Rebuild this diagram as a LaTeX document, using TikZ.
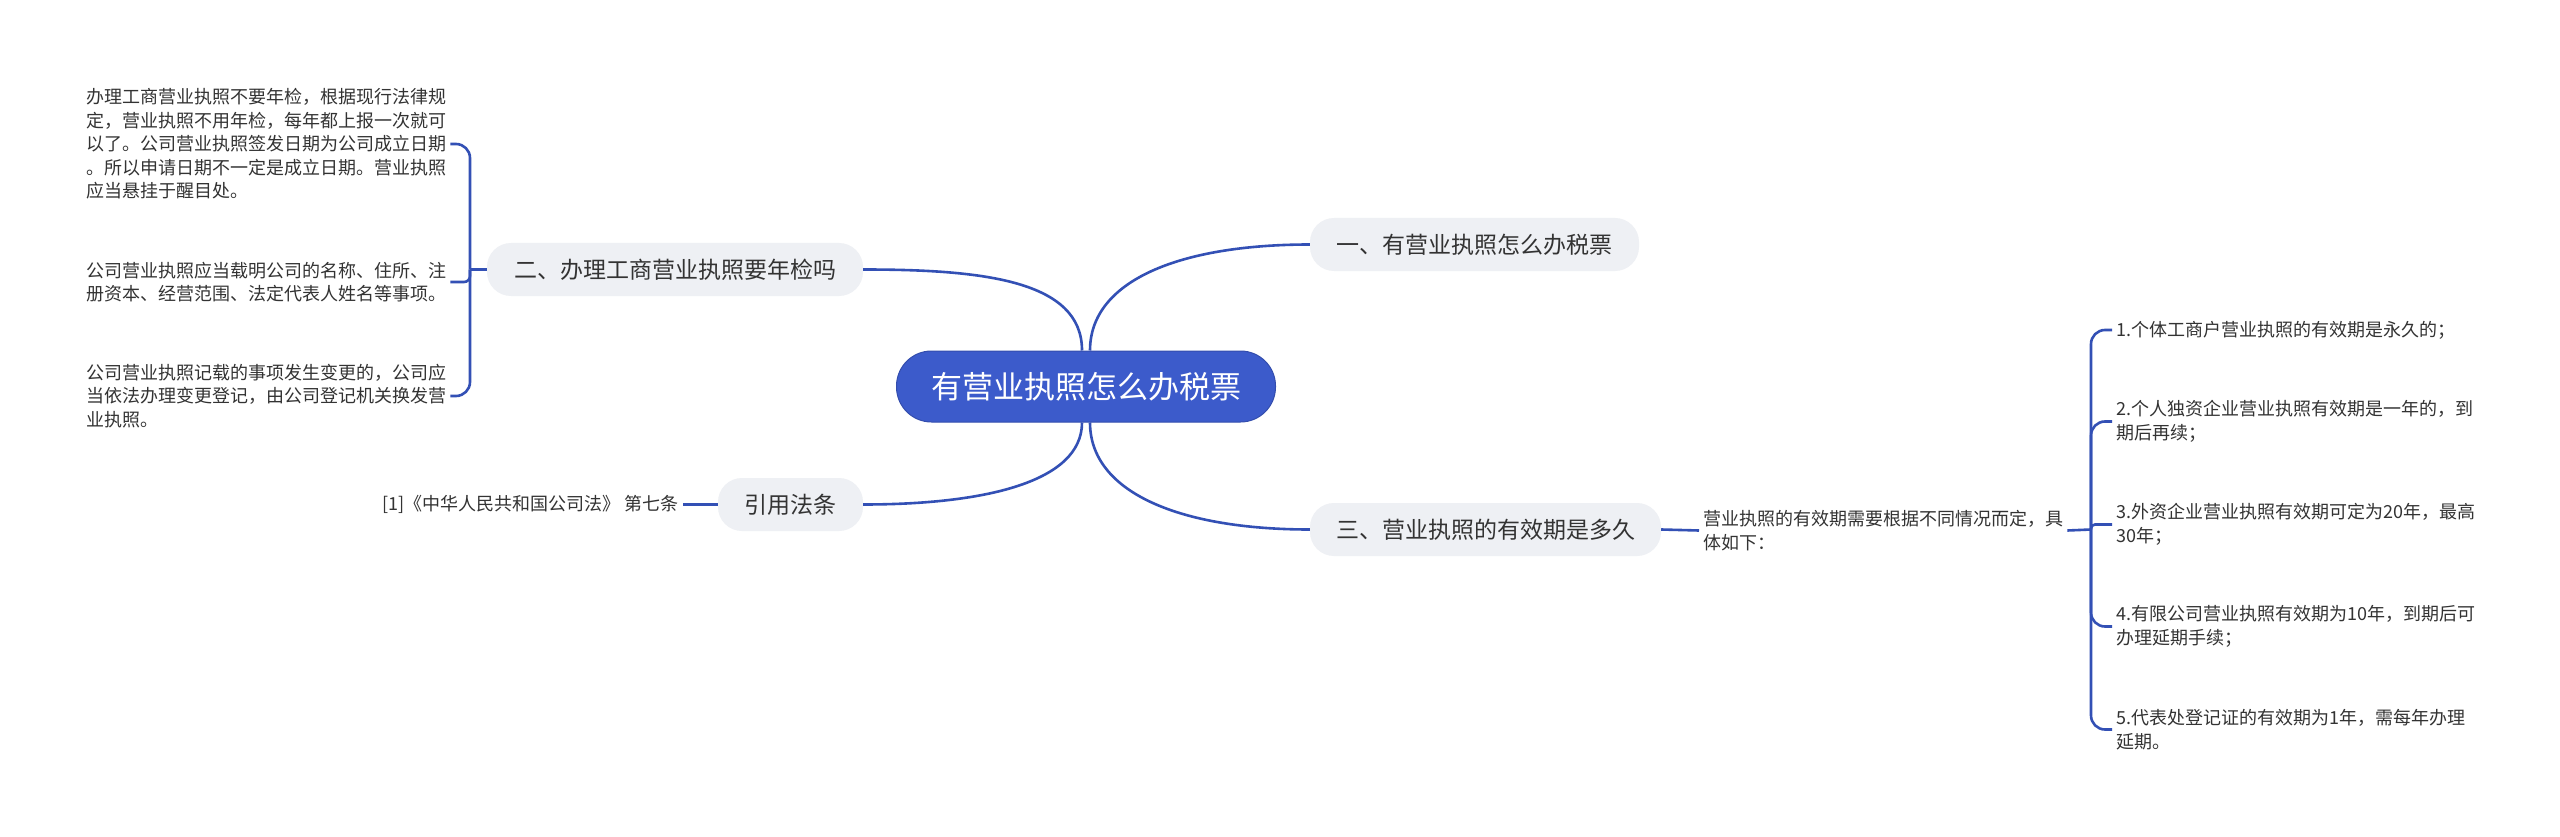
\documentclass[tikz,border=0pt]{standalone}
\usepackage{fontspec}
\setmainfont{Noto Sans CJK SC}
\definecolor{linec}{HTML}{3350B5}
\definecolor{mainc}{HTML}{3C5BCB}
\definecolor{subc}{HTML}{EEF0F4}
\definecolor{txt}{HTML}{333333}
\begin{document}
\begin{tikzpicture}[x=1pt,y=-1pt,
  conn/.style={draw=linec, line width=2.6pt},
  root/.style={fill=mainc, draw=mainc!85!black, line width=1pt, rounded corners=35pt, minimum width=379pt, minimum height=71pt, text=white, font=\fontsize{31}{31}\selectfont, inner sep=0pt},
  sub/.style={fill=subc, rounded corners=24pt, minimum height=53pt, text=txt, font=\fontsize{23}{23}\selectfont, inner sep=0pt},
  leaf/.style={text=txt, font=\fontsize{18}{23.5}\selectfont, align=left, inner sep=4pt}]
\useasboundingbox[fill=white] (0,0) rectangle (2560,837);

\node[root] (c) at (1086,386.5) {有营业执照怎么办税票};
\node[sub, minimum width=329pt] (b1) at (1474.5,244.5) {一、有营业执照怎么办税票};
\node[sub, minimum width=376pt] (b2) at (675,269.5) {二、办理工商营业执照要年检吗};
\node[sub, minimum width=351pt] (b3) at (1485.5,529.5) {三、营业执照的有效期是多久};
\node[sub, minimum width=145pt] (b4) at (790.5,504.5) {引用法条};

\draw[conn] ([xshift=4pt]c.north) .. controls +(0,-70) and +(-130,0) .. (b1.west);
\draw[conn] ([xshift=-4pt]c.north) .. controls +(0,-70) and +(120,0) .. (b2.east);
\draw[conn] ([xshift=4pt]c.south) .. controls +(0,70) and +(-130,0) .. (b3.west);
\draw[conn] ([xshift=-4pt]c.south) .. controls +(0,60) and +(120,0) .. (b4.east);

% left leaves
\node[leaf, anchor=west] (l1) at (82,144) {办理工商营业执照不要年检，根据现行法律规\\定，营业执照不用年检，每年都上报一次就可\\以了。公司营业执照签发日期为公司成立日期\\。所以申请日期不一定是成立日期。营业执照\\应当悬挂于醒目处。};
\node[leaf, anchor=west] (l2) at (82,282) {公司营业执照应当载明公司的名称、住所、注\\册资本、经营范围、法定代表人姓名等事项。};
\node[leaf, anchor=west] (l3) at (82,396) {公司营业执照记载的事项发生变更的，公司应\\当依法办理变更登记，由公司登记机关换发营\\业执照。};
\coordinate (s2) at (470,269.5);
\draw[conn] (b2.west) -- (s2);
\draw[conn, rounded corners=14pt] (s2) -- (s2 |- l1.east) -- (l1.east);
\draw[conn, rounded corners=6pt] (s2) -- (s2 |- l2.east) -- (l2.east);
\draw[conn, rounded corners=14pt] (s2) -- (s2 |- l3.east) -- (l3.east);

% law
\node[leaf, anchor=east] (law) at (683,504.5) {[1]《中华人民共和国公司法》 第七条};
\draw[conn] (b4.west) -- (law.east);

% right
\node[leaf, anchor=west] (r0) at (1699,530.5) {营业执照的有效期需要根据不同情况而定，具\\体如下：};
\draw[conn] (b3.east) -- (r0.west);
\coordinate (s3) at (2091,529.5);
\draw[conn] (r0.east) -- (s3);
\node[leaf, anchor=west] (r1) at (2112,330) {1.个体工商户营业执照的有效期是永久的；};
\node[leaf, anchor=west] (r2) at (2112,421.5) {2.个人独资企业营业执照有效期是一年的，到\\期后再续；};
\node[leaf, anchor=west] (r3) at (2112,524.5) {3.外资企业营业执照有效期可定为20年，最高\\30年；};
\node[leaf, anchor=west] (r4) at (2112,626.5) {4.有限公司营业执照有效期为10年，到期后可\\办理延期手续；};
\node[leaf, anchor=west] (r5) at (2112,729.5) {5.代表处登记证的有效期为1年，需每年办理\\延期。};
\draw[conn, rounded corners=14pt] (s3) -- (s3 |- r1.west) -- (r1.west);
\draw[conn, rounded corners=14pt] (s3) -- (s3 |- r2.west) -- (r2.west);
\draw[conn, rounded corners=4pt] (s3) -- (s3 |- r3.west) -- (r3.west);
\draw[conn, rounded corners=14pt] (s3) -- (s3 |- r4.west) -- (r4.west);
\draw[conn, rounded corners=14pt] (s3) -- (s3 |- r5.west) -- (r5.west);
\end{tikzpicture}
\end{document}
